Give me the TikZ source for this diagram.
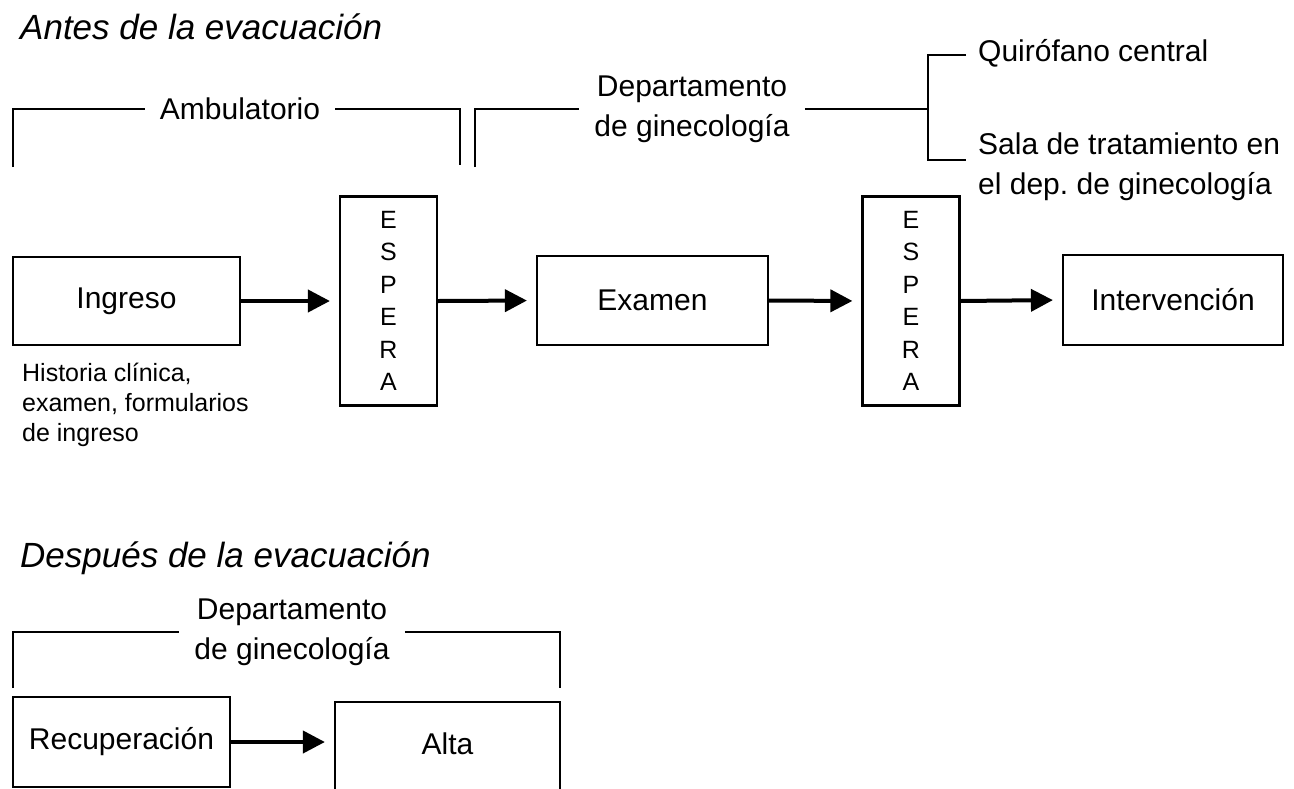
\documentclass[tikz,border=0pt]{standalone}
\usepackage{fontspec}
\setmainfont{Liberation Sans}
\usetikzlibrary{arrows.meta}
\frenchspacing
\begin{document}
\begin{tikzpicture}[x=1pt,y=-1pt,
  lbl/.style={font=\fontsize{30}{40}\selectfont},
  box/.style={draw, line width=2.2pt, inner sep=0pt, lbl},
  waitbox/.style={draw, line width=2.2pt, inner sep=0pt, minimum width=97pt, minimum height=209pt,
     align=center, font=\fontsize{25}{32.5}\selectfont},
  brk/.style={line width=2.2pt},
  arr/.style={line width=4pt, -{Triangle[length=22pt,width=22pt]}, shorten >=9pt},
  ttl/.style={font=\fontsize{35}{40}\selectfont\itshape, anchor=west, inner sep=0pt},
  note/.style={font=\fontsize{25}{30}\selectfont, align=left, anchor=north west, inner sep=0pt},
  blbl/.style={lbl, align=center, inner xsep=15pt, inner ysep=0pt}]
\useasboundingbox (0,0) rectangle (1294,788);

% titles
\node[ttl] (t1) at (20,27) {Antes de la evacuación};
\node[ttl] (t2) at (20,558) {Después de la evacuación};

% top brackets
\node[blbl] (amb) at (240,109) {Ambulatorio};
\coordinate (a1) at (13,167);
\coordinate (a2) at (13,109);
\coordinate (a3) at (460,109);
\coordinate (a4) at (460,165);
\draw[brk] (a1) -- (a2) -- (amb.west);
\draw[brk] (amb.east) -- (a3) -- (a4);

\node[blbl] (dep) at (692,109) {Departamento\\de ginecología};
\coordinate (d1) at (475,167);
\coordinate (d2) at (475,109);
\coordinate (d3) at (928,109);
\draw[brk] (d1) -- (d2) -- (dep.west);
\draw[brk] (dep.east) -- (d3);

\node[lbl, anchor=west, inner sep=0pt] (quir) at (978,53) {Quirófano central};
\node[lbl, anchor=west, align=left, inner sep=0pt] (sala) at (978,167) {Sala de tratamiento en\\el dep. de ginecología};
\coordinate (q1) at (928,55);
\coordinate (q2) at (966,55);
\coordinate (s1) at (928,160);
\coordinate (s2) at (966,160);
\draw[brk] (q2) -- (q1) -- (s1) -- (s2);

% main row
\node[box, minimum width=227pt, minimum height=88pt] (ing) at (126.5,301) {Ingreso};
\node[waitbox] (w1) at (388.5,301) {E\\S\\P\\E\\R\\A};
\node[box, minimum width=231pt, minimum height=89pt] (exa) at (652.5,300.5) {Examen};
\node[waitbox] (w2) at (911,301) {E\\S\\P\\E\\R\\A};
\node[box, minimum width=220pt, minimum height=90pt] (int) at (1173,300) {Intervención};

\draw[arr] (ing.east) -- (w1.west);
\draw[arr] (w1.east) -- (exa.west);
\draw[arr] (exa.east) -- (w2.west);
\draw[arr] (w2.east) -- (int.west);

\node[note] (hist) at (22,363) {Historia clínica,\\examen, formularios\\de ingreso};

% bottom
\node[blbl] (dep2) at (292,632) {Departamento\\de ginecología};
\coordinate (e1) at (13,688);
\coordinate (e2) at (13,632);
\coordinate (e3) at (560,632);
\coordinate (e4) at (560,688);
\draw[brk] (e1) -- (e2) -- (dep2.west);
\draw[brk] (dep2.east) -- (e3) -- (e4);

\node[box, minimum width=217pt, minimum height=90pt] (rec) at (121.5,742) {Recuperación};
\node[box, minimum width=225pt, minimum height=100pt] (alta) at (447.5,752) {};
\node[lbl] (altat) at (447.5,744) {Alta};
\draw[arr] (rec.east) -- (rec.east -| alta.west);
\end{tikzpicture}
\end{document}
